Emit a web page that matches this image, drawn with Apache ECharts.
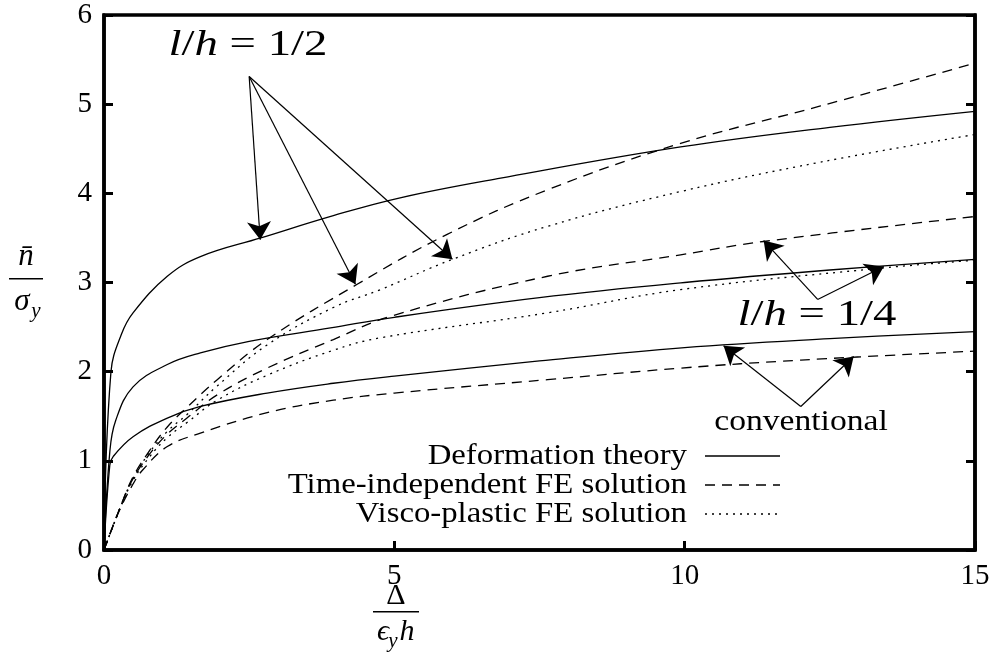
<!DOCTYPE html>
<html>
<head>
<meta charset="utf-8">
<script src="https://cdn.jsdelivr.net/npm/echarts@6/dist/echarts.min.js"></script>
<style>
  html, body { margin: 0; padding: 0; background: #fff; }
  #chart { width: 1000px; height: 663px; }
</style>
</head>
<body>
<div id="chart"></div>
<script>
// values, [delta/(eps_y h), n/sigma_y]
const deformHalf = [[0, 0], [0.12, 2.0], [0.3, 2.42], [0.5, 2.66], [1.09, 3.07], [1.66, 3.29], [2.7, 3.5], [3.95, 3.75], [5.1, 3.95], [6.83, 4.17], [9.93, 4.52], [12.5, 4.74], [15, 4.92]];
const deformQuarter = [[0, 0], [0.1, 1.1], [0.2, 1.45], [0.5, 1.83], [1.09, 2.08], [1.66, 2.21], [2.5, 2.34], [3.9, 2.49], [5, 2.61], [7.5, 2.83], [10, 3.0], [12.5, 3.14], [15, 3.26]];
const deformConv = [[0, 0], [0.1, 0.95], [0.16, 1.05], [0.5, 1.27], [1.09, 1.48], [1.66, 1.61], [2.81, 1.76], [3.95, 1.87], [5, 1.95], [7.5, 2.12], [10, 2.27], [12.5, 2.37], [15, 2.45]];

const feHalf = [[0, 0], [0.28, 0.48], [0.5, 0.82], [0.79, 1.12], [1.09, 1.38], [1.43, 1.6], [1.95, 1.91], [2.81, 2.36], [4.36, 2.98], [5.91, 3.54], [7.64, 4.04], [9.93, 4.56], [12.34, 4.98], [15, 5.46]];
const feQuarter = [[0, 0], [0.28, 0.48], [0.5, 0.8], [0.79, 1.08], [1.09, 1.3], [1.43, 1.48], [1.95, 1.74], [2.81, 2.04], [3.95, 2.36], [4.93, 2.62], [7.64, 3.07], [9.93, 3.31], [11.36, 3.46], [15, 3.74]];
const feConv = [[0, 0], [0.25, 0.42], [0.5, 0.74], [0.67, 0.9], [1.09, 1.16], [1.66, 1.31], [2.81, 1.54], [3.95, 1.68], [5, 1.76], [7.64, 1.91], [9.93, 2.04], [12, 2.13], [15, 2.23]];

const viscoHalf = [[0, 0], [0.28, 0.48], [0.5, 0.8], [0.79, 1.1], [1.09, 1.33], [1.43, 1.52], [1.95, 1.84], [2.81, 2.3], [3.95, 2.72], [4.76, 2.92], [6.0, 3.26], [7.64, 3.63], [9.93, 4.02], [12.34, 4.35], [15, 4.66]];
const viscoQuarter = [[0, 0], [0.28, 0.47], [0.5, 0.78], [0.79, 1.05], [1.09, 1.26], [1.43, 1.43], [1.95, 1.68], [2.81, 1.96], [3.95, 2.24], [4.76, 2.38], [7.64, 2.66], [9.93, 2.92], [13.2, 3.15], [15, 3.25]];

const xTicks = [0, 5, 10, 15];
const yTicks = [0, 1, 2, 3, 4, 5, 6];

const legendNames = ['Deformation theory', 'Time-independent FE solution', 'Visco-plastic FE solution'];
const legendDashes = [null, [10, 7], [2, 5]];

// arrows: start at the label, end on the curve (data coords)
const arrowsHalf = [[[2.5, 5.31], [2.69, 3.48]], [[2.5, 5.31], [4.33, 2.98]], [[2.5, 5.31], [6.0, 3.26]]];
const arrowsQuarter = [[[12.29, 2.81], [11.36, 3.47]], [[12.29, 2.81], [13.43, 3.18]]];
const arrowsConv = [[[12.0, 1.61], [10.67, 2.29]], [[12.0, 1.61], [12.91, 2.17]]];

const serif = '"Liberation Serif", "Times New Roman", serif';

const myChart = echarts.init(document.getElementById('chart'));

function curve(name, data, dash) {
  return {
    name: name,
    type: 'line',
    data: data,
    symbol: 'none',
    showSymbol: false,
    smooth: 0.4,
    silent: true,
    lineStyle: { color: '#000', width: 1.3, type: dash },
    itemStyle: { color: '#000' },
    z: 3
  };
}

const arrowLines = arrowsHalf.concat(arrowsQuarter, arrowsConv).map(a => [{ coord: a[0] }, { coord: a[1] }]);

const series = [
  curve(legendNames[0], deformHalf, 'solid'),
  curve(legendNames[0], deformQuarter, 'solid'),
  curve(legendNames[0], deformConv, 'solid'),
  curve(legendNames[1], feHalf, legendDashes[1]),
  curve(legendNames[1], feQuarter, legendDashes[1]),
  curve(legendNames[1], feConv, legendDashes[1]),
  curve(legendNames[2], viscoHalf, legendDashes[2]),
  curve(legendNames[2], viscoQuarter, legendDashes[2]),
  {
    name: 'arrows',
    type: 'line',
    data: [],
    silent: true,
    markLine: {
      silent: true,
      symbol: ['none', 'arrow'],
      symbolSize: 18,
      label: { show: false },
      lineStyle: { color: '#000', width: 1.2, type: 'solid' },
      emphasis: { disabled: true },
      animation: false,
      data: arrowLines
    }
  }
];

function txt(x, y, text, size, italic, extra) {
  return Object.assign({
    type: 'text', x: x, y: y,
    style: {
      text: text, fill: '#000',
      font: (italic ? 'italic ' : '') + size + 'px ' + serif,
      align: 'center', verticalAlign: 'middle'
    }
  }, extra || {});
}

function ratio(x, y, text) {
  return {
    type: 'text', x: x, y: y, scaleX: 1.3,
    style: {
      text: text, fill: '#000', font: '36px ' + serif,
      rich: { i: { font: 'italic 36px ' + serif } },
      align: 'center', verticalAlign: 'middle'
    }
  };
}

// legend drawn by hand: text right-aligned, line sample to the right
const legendGraphics = [];
legendNames.forEach((name, k) => {
  const y = 456 + k * 29;
  legendGraphics.push({
    type: 'text', x: 687, y: y, scaleX: 1.13,
    style: { text: name, fill: '#000', font: '29px ' + serif, align: 'right', verticalAlign: 'middle' }
  });
  legendGraphics.push({
    type: 'line', shape: { x1: 705, y1: y, x2: 780, y2: y },
    style: { stroke: '#000', lineWidth: 1.3, lineDash: legendDashes[k] }
  });
});

const option = {
  animation: false,
  grid: {
    left: 104, right: 25, top: 15, bottom: 113,
    show: true, borderColor: '#000', borderWidth: 3.5
  },
  xAxis: {
    type: 'value',
    min: 0, max: 15, interval: 5,
    splitLine: { show: false },
    axisLine: { lineStyle: { color: '#000', width: 3.5 } },
    axisTick: { inside: true, length: 9, lineStyle: { color: '#000', width: 3 } },
    axisLabel: {
      margin: 12, fontFamily: 'Liberation Serif', fontSize: 29, color: '#000',
      formatter: v => (xTicks.indexOf(v) >= 0 ? String(v) : '')
    }
  },
  yAxis: [
    {
      type: 'value',
      min: 0, max: 6, interval: 1,
      splitLine: { show: false },
      axisLine: { lineStyle: { color: '#000', width: 3.5 } },
      axisTick: { inside: true, length: 9, lineStyle: { color: '#000', width: 3 } },
      axisLabel: {
        margin: 12, fontFamily: 'Liberation Serif', fontSize: 29, color: '#000',
        formatter: v => (yTicks.indexOf(v) >= 0 ? String(v) : '')
      }
    },
    {
      type: 'value',
      position: 'right',
      min: 0, max: 6, interval: 1,
      splitLine: { show: false },
      axisLine: { show: true, lineStyle: { color: '#000', width: 3.5 } },
      axisTick: { inside: true, length: 9, lineStyle: { color: '#000', width: 3 } },
      axisLabel: { show: false }
    }
  ],
  series: series,
  graphic: [
    // l/h labels and "conventional"
    ratio(248, 46, '{i|l}/{i|h} = 1/2'),
    ratio(817, 316, '{i|l}/{i|h} = 1/4'),
    txt(801, 422, 'conventional', 30, false, { scaleX: 1.12 }),
    // y axis name  n̄ / σ_y
    txt(26, 257, 'n\u0304', 31, true),
    { type: 'rect', shape: { x: 9, y: 278, width: 34, height: 1.5 }, style: { fill: '#000' } },
    txt(22, 302, 'σ', 31, true),
    txt(36, 311, 'y', 21, true),
    // x axis name  Δ / ε_y h
    txt(396, 596, 'Δ', 30, false),
    { type: 'rect', shape: { x: 373, y: 611, width: 46, height: 1.5 }, style: { fill: '#000' } },
    txt(383, 632, 'ϵ', 30, true),
    txt(393, 641, 'y', 21, true),
    txt(407, 632, 'h', 30, true)
  ].concat(legendGraphics)
};

myChart.setOption(option);
</script>
</body>
</html>
